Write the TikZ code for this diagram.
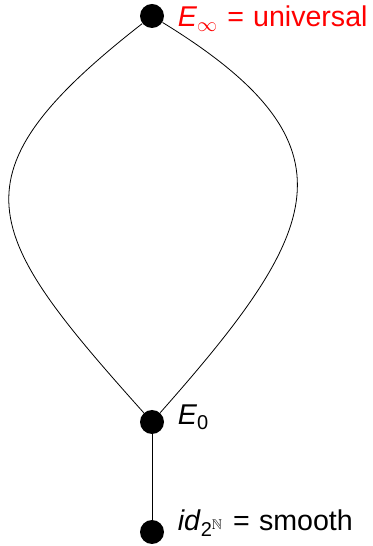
\documentclass[tikz,border=0pt]{standalone}
\usepackage{fontspec}
\setmainfont{Liberation Sans}
\usepackage{amssymb}
\begin{document}
\begin{tikzpicture}[x=0.5pt,y=0.5pt,
    dot/.style={circle, fill=black, inner sep=0pt, minimum size=12pt},
    lbl/.style={anchor=base west, inner sep=0pt, font=\fontsize{14.3}{16}\selectfont}]
    \useasboundingbox (0,0) rectangle (372,546);
    % Dots
    \node[dot] (inf) at (152,530) {};
    \node[dot] (e0) at (152,124) {};
    \node[dot] (smooth) at (152,14) {};
    % Labels
    \node[lbl, text=red] (infl) at ([xshift=6.5pt, yshift=-5.5pt]inf.east)
        {\textit{E}\textsubscript{$\infty$}\kern0.6pt{} = \kern0.6pt{}universal};
    \node[lbl] (e0l) at ([xshift=6.5pt, yshift=-1.5pt]e0.east) {\textit{E}\textsubscript{0}};
    \node[lbl] (smoothl) at ([xshift=6.5pt, yshift=1pt]smooth.east)
        {\textit{id}\textsubscript{2$^{\mathbb{N}}$}\kern0.6pt{} = \kern0.6pt{}smooth};
    % Edges
    \draw (inf) .. controls +(-205,-160) and +(-170,190) .. (e0);
    \draw (inf) .. controls +(212,-130) and +(168,190) .. (e0);
    \draw (e0) -- (smooth);
\end{tikzpicture}
\end{document}
